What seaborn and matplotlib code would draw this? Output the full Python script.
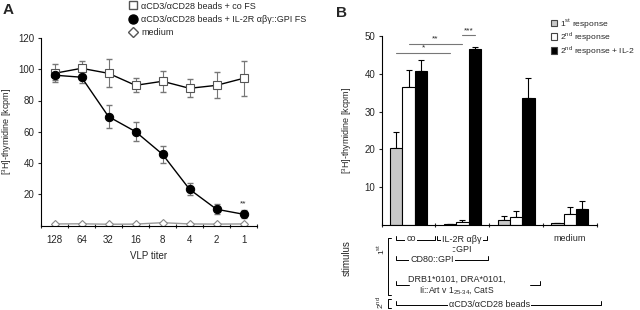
import numpy as np
import pandas as pd
import matplotlib.pyplot as plt
import matplotlib.transforms as mtransforms
from matplotlib.lines import Line2D
from matplotlib.patches import Patch
import seaborn as sns

# ---- panel A data (VLP titration) ----
titers = ["128", "64", "32", "16", "8", "4", "2", "1"]
co_mean = [97.4, 100.6, 97.4, 89.7, 92.3, 87.8, 89.7, 94.2]
co_err = [5.8, 4.9, 9.0, 4.5, 6.6, 5.8, 8.3, 11.3]
il2_mean = [96.2, 94.9, 69.7, 60.1, 45.6, 23.2, 10.4, 7.2]
il2_err = [3.0, 3.5, 7.2, 6.0, 5.3, 3.8, 3.2, 2.7]
med_mean = [1.0, 1.1, 0.8, 0.9, 1.8, 1.0, 0.9, 1.0]
med_err = [0.3, 0.3, 0.3, 0.3, 0.4, 0.3, 0.3, 0.3]

# ---- panel B data (restimulation) ----
groups = ["co", "IL-2R", "CD80", "medium"]
responses = ["1st response", "2nd response", "2nd response + IL-2"]
resp1 = [20.3, 0.2, 1.2, 0.5]
resp1_err = [4.4, 0.1, 1.0, 0.1]
resp2 = [36.4, 0.7, 2.0, 2.9]
resp2_err = [4.7, 0.5, 1.6, 1.7]
resp2_il2 = [40.8, 46.5, 33.6, 4.1]
resp2_il2_err = [2.9, 0.7, 5.3, 2.2]

BAR_COLORS = ["#c8c8c8", "white", "black"]

sns.set_theme(style="ticks")
plt.rcParams["font.family"] = ["Liberation Sans", "DejaVu Sans"]
plt.rcParams["mathtext.fontset"] = "custom"
plt.rcParams["mathtext.rm"] = "Liberation Sans"
FS = 7
SFS = 6.5  # legends / scheme text

fig = plt.figure(figsize=(6.4, 3.1), dpi=100)
W, H = 640, 310


def px_axes(left, top, right, bottom):
    return fig.add_axes([left / W, 1 - bottom / H, (right - left) / W, (bottom - top) / H])


# ====================================================================
# PANEL A
# ====================================================================
axA = px_axes(41, 38, 257, 225.5)
pos = np.arange(len(titers))
dfA = pd.DataFrame({
    "pos": np.tile(pos, 3),
    "val": co_mean + il2_mean + med_mean,
    "series": ["co"] * 8 + ["il2"] * 8 + ["med"] * 8,
})

axA.errorbar(pos, med_mean, yerr=med_err, fmt="none", ecolor="#888888", elinewidth=0.7, capsize=2, zorder=1)
axA.errorbar(pos, co_mean, yerr=co_err, fmt="none", ecolor="#777777", elinewidth=0.8, capsize=2.5, zorder=1)
axA.errorbar(pos, il2_mean, yerr=il2_err, fmt="none", ecolor="#777777", elinewidth=0.8, capsize=2.5, zorder=1)

sns.lineplot(data=dfA[dfA.series == "med"], x="pos", y="val", ax=axA, color="#999999", lw=1,
             marker="D", markersize=4, markerfacecolor="white", markeredgecolor="#888888",
             markeredgewidth=0.8, legend=False, zorder=2)
sns.lineplot(data=dfA[dfA.series == "co"], x="pos", y="val", ax=axA, color="black", lw=1,
             marker="s", markersize=5.5, markerfacecolor="white", markeredgecolor="#555555",
             markeredgewidth=0.8, legend=False, zorder=3)
sns.lineplot(data=dfA[dfA.series == "il2"], x="pos", y="val", ax=axA, color="black", lw=1,
             marker="o", markersize=6, markerfacecolor="black", markeredgecolor="black",
             legend=False, zorder=3)

axA.text(pos[-1], il2_mean[-1] + il2_err[-1] + 2, "**", ha="center", va="bottom", fontsize=6)

axA.set_xlim(-0.5, len(titers) - 0.5)
axA.set_ylim(0, 120)
axA.set_yticks([20, 40, 60, 80, 100, 120])
axA.set_xticks(pos)
axA.set_xticklabels(titers)
axA.set_xticks(np.arange(-0.5, len(titers)), minor=True)
axA.tick_params(axis="x", which="major", length=0, pad=7, labelsize=FS)
axA.tick_params(axis="x", which="minor", length=3, width=0.8, direction="inout")
axA.tick_params(axis="y", length=2.5, width=0.8, labelsize=FS, pad=2)
axA.set_xlabel("VLP titer", fontsize=FS, labelpad=4)
axA.set_ylabel("[$^{3}$H]-thymidine [kcpm]", fontsize=SFS, labelpad=3)
for s in ["top", "right"]:
    axA.spines[s].set_visible(False)
for s in ["left", "bottom"]:
    axA.spines[s].set_linewidth(0.8)
    axA.spines[s].set_color("black")

handlesA = [
    Line2D([], [], ls="none", marker="s", markersize=6, markerfacecolor="white", markeredgecolor="#555555"),
    Line2D([], [], ls="none", marker="o", markersize=6.5, markerfacecolor="black", markeredgecolor="black"),
    Line2D([], [], ls="none", marker="D", markersize=5.5, markerfacecolor="white", markeredgecolor="#555555"),
]
labelsA = ["αCD3/αCD28 beads + co FS", "αCD3/αCD28 beads + IL-2R αβγ::GPI FS", "medium"]
fig.legend(handlesA, labelsA, loc="upper left", bbox_to_anchor=(125 / W, 1 + 2 / H), frameon=False,
           fontsize=SFS, handlelength=1, handletextpad=0.4, labelspacing=0.45, borderaxespad=0)

fig.text(3 / W, 1 - 3 / H, "A", fontsize=11, fontweight="bold", ha="left", va="top")

# ====================================================================
# PANEL B
# ====================================================================
axB = px_axes(381.7, 36, 596.7, 224.8)
dfB = pd.DataFrame({
    "group": groups * 3,
    "response": np.repeat(responses, len(groups)),
    "value": resp1 + resp2 + resp2_il2,
})
errB = [resp1_err, resp2_err, resp2_il2_err]

sns.barplot(data=dfB, x="group", y="value", hue="response", order=groups, hue_order=responses,
            palette=BAR_COLORS, width=0.69, edgecolor="black", linewidth=0.8, errorbar=None,
            legend=False, ax=axB, zorder=2)

n_g = len(groups)
bar_containers = list(axB.containers)
for i, cont in enumerate(bar_containers):
    xs = [p.get_x() + p.get_width() / 2 for p in cont.patches]
    vals = [p.get_height() for p in cont.patches]
    axB.errorbar(xs, vals, yerr=[np.zeros(n_g), errB[i]], fmt="none", ecolor="black",
                 elinewidth=0.8, capsize=2.5, capthick=0.8, zorder=1)

bw = 0.69 / 3
# significance bars
sig = [(-bw, 1 - bw, 45.6, "*"), (0.0, 1.0, 48.0, "**"), (1.0, 1 + bw, 50.3, "***")]
for x0, x1, y, lab in sig:
    axB.plot([x0, x1], [y, y], color="#777777", lw=0.8, clip_on=False)
    axB.text((x0 + x1) / 2, y + 0.2, lab, ha="center", va="bottom", fontsize=6, clip_on=False)

axB.set_xlim(-0.5, n_g - 0.5)
axB.set_ylim(0, 50)
axB.set_yticks([10, 20, 30, 40, 50])
axB.set_xticks(np.arange(-0.5, n_g))
axB.set_xticklabels([])
axB.tick_params(axis="x", length=3, width=0.8, direction="inout")
axB.tick_params(axis="y", length=2.5, width=0.8, labelsize=FS, pad=2)
axB.set_xlabel("")
axB.set_ylabel("[$^{3}$H]-thymidine [kcpm]", fontsize=SFS, labelpad=8)
for s in ["top", "right"]:
    axB.spines[s].set_visible(False)
for s in ["left", "bottom"]:
    axB.spines[s].set_linewidth(0.8)
    axB.spines[s].set_color("black")

handlesB = [Patch(facecolor=c, edgecolor="#444444", linewidth=0.8) for c in BAR_COLORS]
labelsB = ["1$^{\\rm st}$ response", "2$^{\\rm nd}$ response", "2$^{\\rm nd}$ response + IL-2"]
fig.legend(handlesB, labelsB, loc="upper left", bbox_to_anchor=(549 / W, 1 - 15 / H), frameon=False,
           fontsize=6.1, handlelength=0.75, handleheight=0.75, handletextpad=0.3, labelspacing=0.02,
           borderaxespad=0, borderpad=0.2)

fig.text(336 / W, 1 - 6 / H, "B", fontsize=11, fontweight="bold", ha="left", va="top")

# ---- stimulus scheme under panel B (x in data units, y in figure pixels) ----
tr = mtransforms.blended_transform_factory(axB.transData, fig.transFigure)


def fy(p):
    return 1 - p / H


def seg(xs, ps):
    axB.plot(xs, [fy(p) for p in ps], color="black", lw=0.7, transform=tr, clip_on=False, zorder=1)


def bracket_line(x0, x1, p, hook=4):
    seg([x0, x0, x1, x1], [p - hook, p, p, p - hook])


def label(x, p, s, fs=SFS, **kw):
    axB.text(x, fy(p), s, transform=tr, ha="center", va="center", fontsize=fs, clip_on=False,
             zorder=3, **kw)


box = dict(facecolor="white", edgecolor="none", pad=0.8)
x_start = -bw
# row: co / IL-2R / medium
bracket_line(x_start, 0.49, 240)
label(0.05, 238.5, "co", bbox=box)
bracket_line(0.53, 1.45, 240)
label(0.99, 239, "IL-2R αβγ", bbox=box)
label(0.99, 249, "::GPI")
label(3.0, 238.5, "medium")
# row: CD80::GPI
bracket_line(x_start, 1.47, 260)
label(0.44, 259, "CD80::GPI", bbox=box)
# row: DRB1 ... (line at baseline, only beside the text)
seg([x_start, x_start, 0.0], [281, 284.5, 284.5])
seg([2.25, 2.44, 2.44], [284.5, 284.5, 281])
label(0.90, 279, "DRB1*0101, DRA*0101,")
label(0.90, 289.5, "Ii::Art v 1$_{25\\text{-}34}$, CatS", fs=6.2)
# row: 2nd stimulus
bracket_line(x_start, 3.58, 305)
label(1.5, 304.5, "αCD3/αCD28 beads", bbox=box)

# left brackets
xb = -0.38
seg([xb + 0.05, xb, xb, xb + 0.05], [238, 238, 295, 295])
seg([xb + 0.05, xb, xb, xb + 0.05], [299, 299, 308, 308])
axB.text(-0.53, fy(249), "1$^{\\rm st}$", transform=tr, rotation=90, ha="center", va="center",
         fontsize=6, clip_on=False)
axB.text(-0.53, fy(303), "2$^{\\rm nd}$", transform=tr, rotation=90, ha="center", va="center",
         fontsize=6, clip_on=False)
axB.text(-1.15, fy(258), "stimulus", transform=tr, rotation=90, ha="center", va="center",
         fontsize=FS, clip_on=False)

fig.savefig("out.png", dpi=100)
